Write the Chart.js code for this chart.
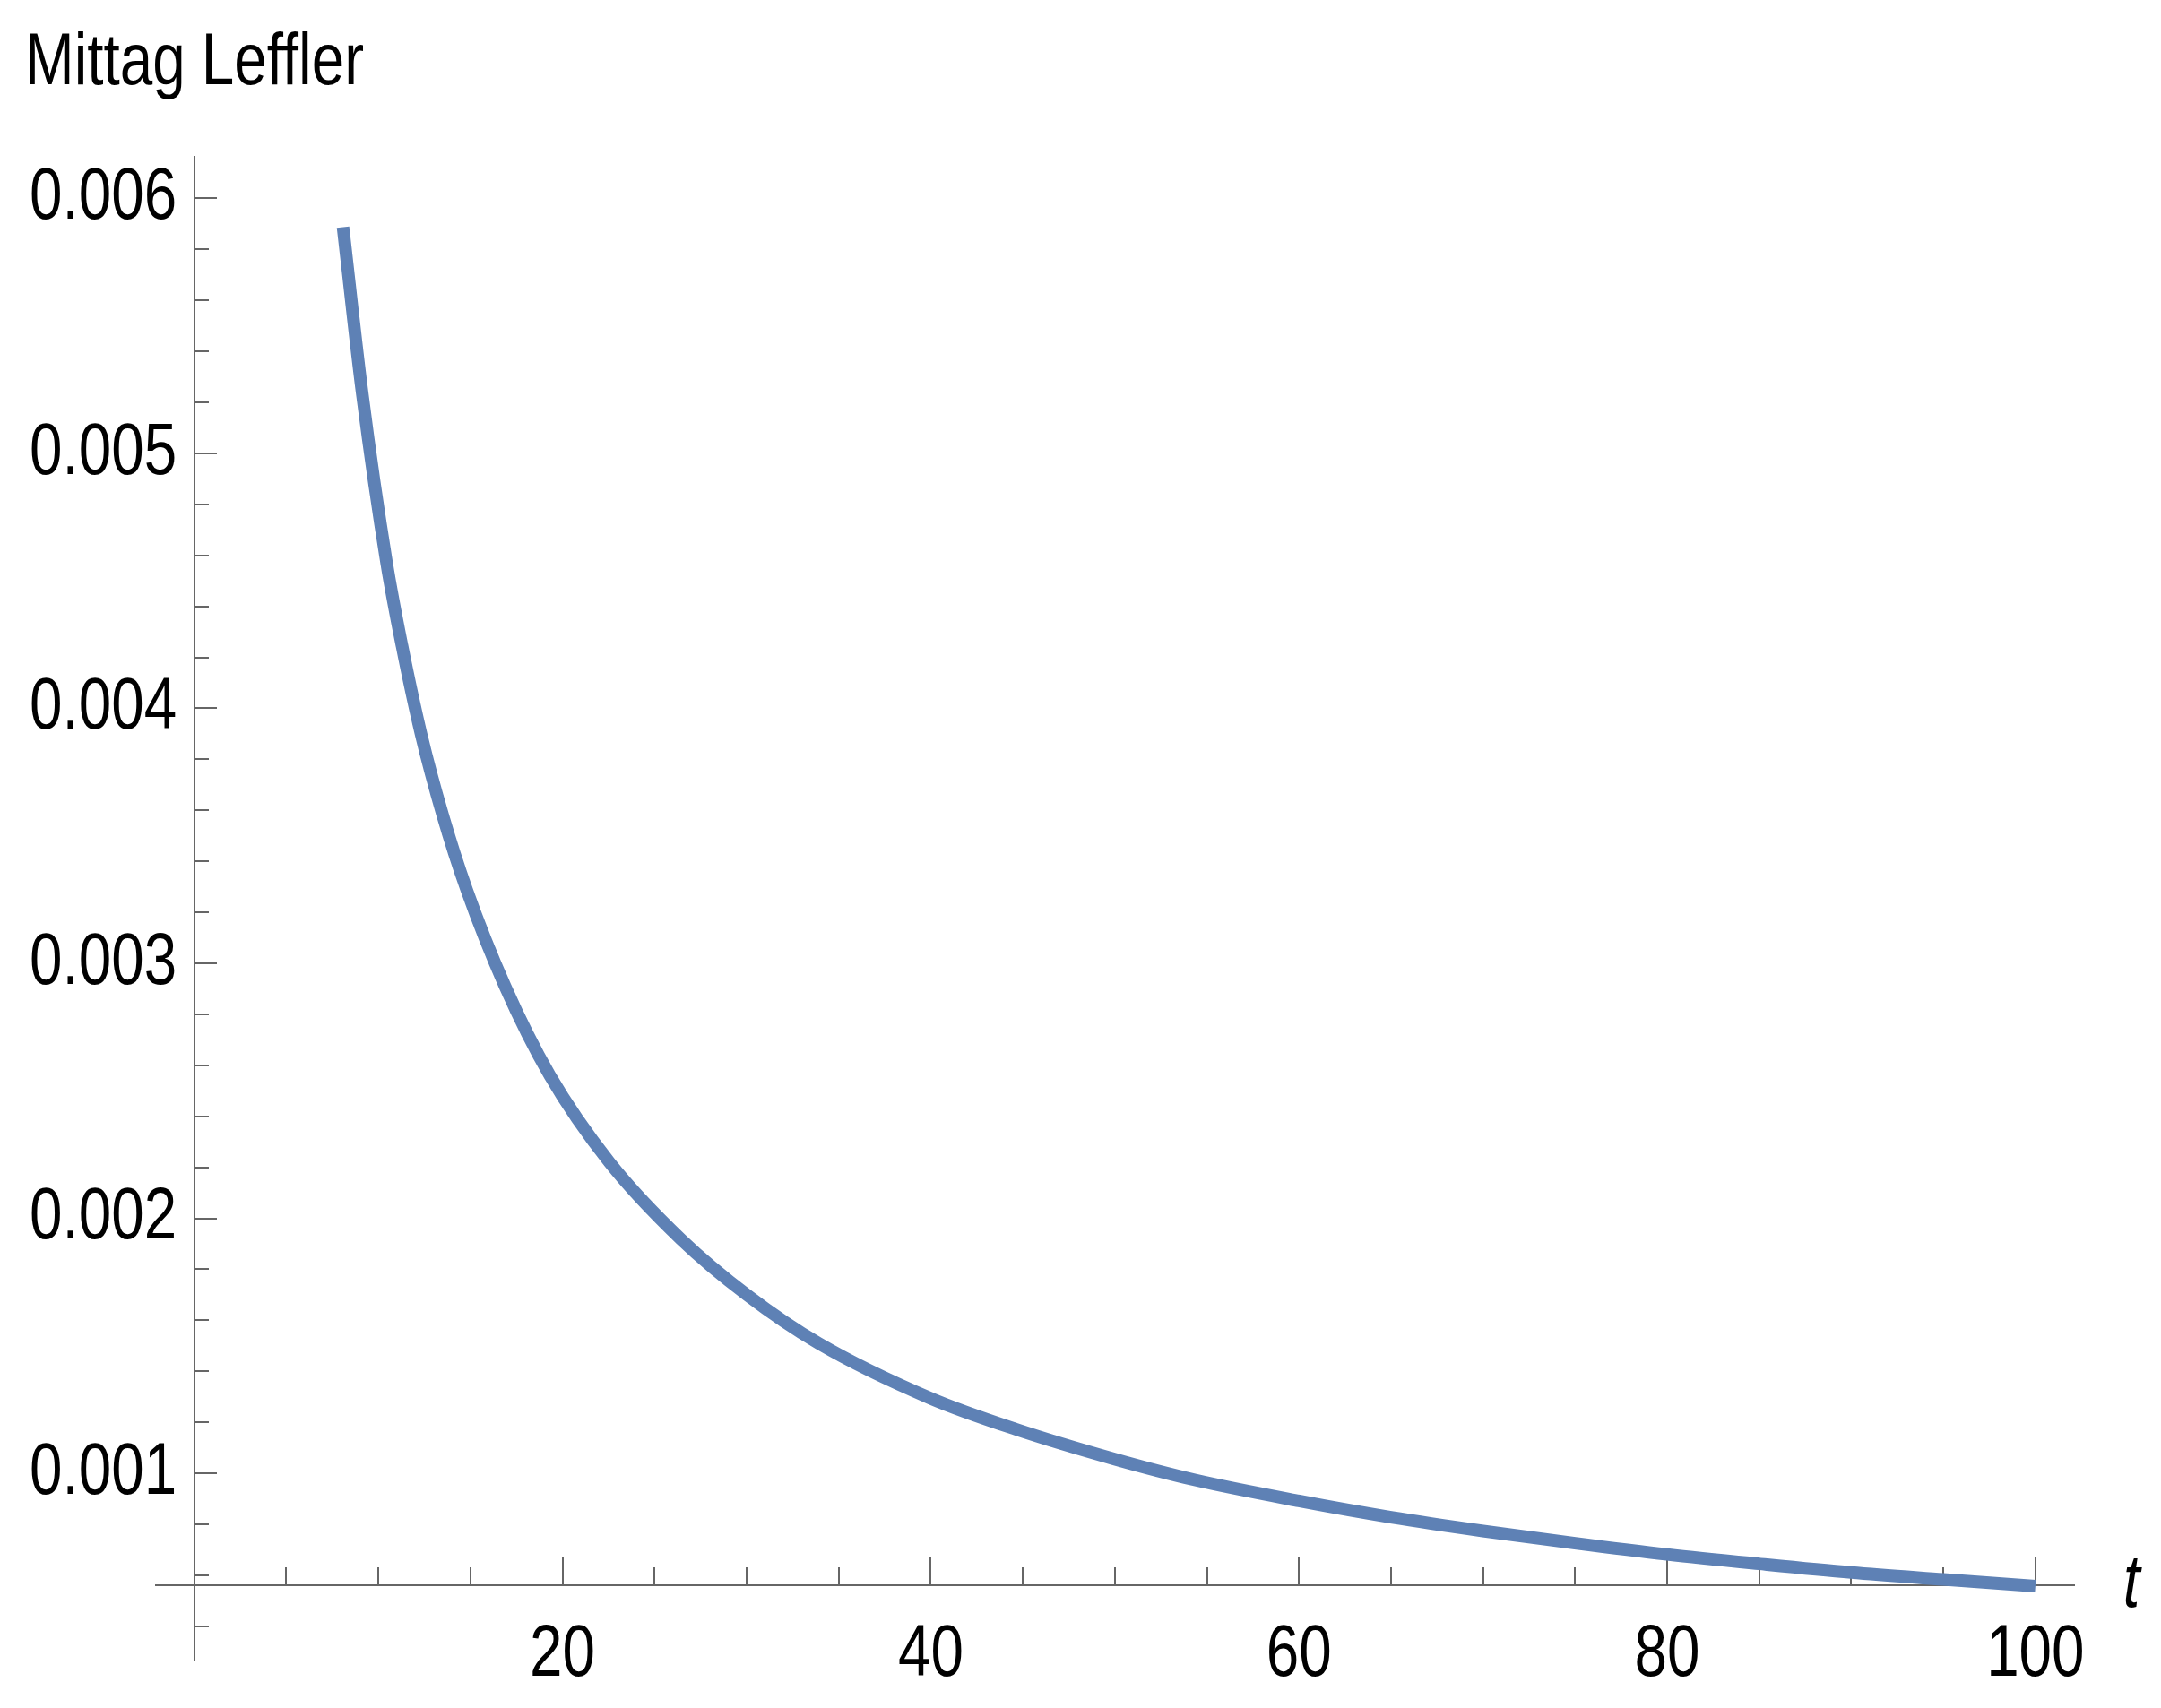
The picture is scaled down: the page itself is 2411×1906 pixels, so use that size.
<!DOCTYPE html>
<html>
<head>
<meta charset="utf-8">
<title>Mittag Leffler</title>
<script src="https://cdn.jsdelivr.net/npm/chart.js@4.4.1/dist/chart.umd.min.js"></script>
<style>
  html, body { margin: 0; padding: 0; background: #ffffff; }
  #wrap { width: 2411px; height: 1906px; }
</style>
</head>
<body>
<div id="wrap"><canvas id="chart_ml"></canvas></div>
<script>
// curve
const tValues = [8.08, 9.13, 10.45, 11.28, 12.33, 13.5, 14.79, 16.87, 19.31, 22.55, 26.45, 30.02,
  33.91, 40, 44.62, 49.98, 54.36, 60, 65, 70, 75, 80, 85, 90, 95, 100];
const mlValues = [0.005887, 0.005231, 0.00457, 0.004247, 0.003896, 0.00358, 0.00329, 0.002912,
  0.002561, 0.00222, 0.001917, 0.00170, 0.00151, 0.001294, 0.001173, 0.001056,
  0.000974, 0.000892, 0.000828, 0.000774, 0.000726, 0.000682, 0.000645, 0.000611, 0.000584,
  0.000558];

const xMajorTicks = [20, 40, 60, 80, 100];
const xTickLabels = ['20', '40', '60', '80', '100'];
const xMinorTicks = [5, 10, 15, 25, 30, 35, 45, 50, 55, 65, 70, 75, 85, 90, 95];

const yMajorTicks = [0.001, 0.002, 0.003, 0.004, 0.005, 0.006];
const yTickLabels = ['0.001', '0.002', '0.003', '0.004', '0.005', '0.006'];
const yMinorTicks = [0.0004, 0.0006, 0.0008, 0.0012, 0.0014, 0.0016, 0.0018, 0.0022, 0.0024,
  0.0026, 0.0028, 0.0032, 0.0034, 0.0036, 0.0038, 0.0042, 0.0044, 0.0046, 0.0048, 0.0052,
  0.0054, 0.0056, 0.0058];

const xRange = { min: -2.08, max: 102.1 };
const yRange = { min: 0.000266, max: 0.0061616 };
const tAxisAt = 0.00056; // value where the t axis crosses
const yAxisAt = 0;

const FONT = "'Liberation Sans', Arial, sans-serif";
const NARROW = 0.8; // no narrow face installed, so squeeze the text instead
const AXIS = '#666666';
const LINE = '#5e81b5';

const canvas = document.getElementById('chart_ml');
const ctx2d = canvas.getContext('2d');
const plainFillText = ctx2d.fillText.bind(ctx2d);
ctx2d.fillText = (text, x, y, maxWidth) => {
  const w = ctx2d.measureText(text).width * NARROW;
  plainFillText(text, x, y, Math.min(maxWidth ?? Infinity, w));
};

const setTicks = values => scale => {
  scale.ticks = values.map(v => ({ value: v }));
};

const axisNamePlugin = {
  id: 'axisName',
  afterDraw: chart => {
    const { ctx, scales } = chart;
    const y = scales.y.getPixelForValue(tAxisAt);
    ctx.save();
    ctx.font = 'italic 84px ' + FONT;
    ctx.fillStyle = '#000000';
    ctx.textAlign = 'center';
    ctx.textBaseline = 'middle';
    ctx.fillText('t', scales.x.right + 64, y);
    ctx.restore();
  }
};

new Chart(canvas, {
  type: 'line',
  data: {
    datasets: [{
      label: 'Mittag Leffler',
      data: tValues.map((t, i) => ({ x: t, y: mlValues[i] })),
      xAxisID: 'x',
      yAxisID: 'y',
      borderColor: LINE,
      backgroundColor: LINE,
      borderWidth: 14,
      pointRadius: 0,
      fill: false,
      cubicInterpolationMode: 'monotone'
    }]
  },
  options: {
    responsive: true,
    maintainAspectRatio: false,
    animation: false,
    devicePixelRatio: 1,
    layout: { padding: { left: 28, right: 97, top: 0, bottom: 53 } },
    scales: {
      x: {
        type: 'linear',
        axis: 'x',
        position: { y: tAxisAt },
        min: xRange.min,
        max: xRange.max,
        afterBuildTicks: setTicks(xMajorTicks),
        grid: { drawOnChartArea: false, color: AXIS, lineWidth: 2, tickLength: -32 },
        border: { display: true, color: AXIS, width: 2 },
        ticks: {
          color: '#000000',
          padding: 61,
          maxRotation: 0,
          autoSkip: false,
          font: { size: 82, family: FONT },
          callback: (v, i) => xTickLabels[i]
        }
      },
      xMinor: {
        type: 'linear',
        axis: 'x',
        position: { y: tAxisAt },
        min: xRange.min,
        max: xRange.max,
        afterBuildTicks: setTicks(xMinorTicks),
        grid: { drawOnChartArea: false, color: AXIS, lineWidth: 2, tickLength: -20 },
        border: { display: false },
        ticks: { display: false }
      },
      y: {
        type: 'linear',
        axis: 'y',
        position: { x: yAxisAt },
        min: yRange.min,
        max: yRange.max,
        afterBuildTicks: setTicks(yMajorTicks),
        grid: { drawOnChartArea: false, color: AXIS, lineWidth: 2, tickLength: -26 },
        border: { display: true, color: AXIS, width: 2 },
        ticks: { display: false }
      },
      yMinor: {
        type: 'linear',
        axis: 'y',
        position: { x: yAxisAt },
        min: yRange.min,
        max: yRange.max,
        afterBuildTicks: setTicks(yMinorTicks),
        grid: { drawOnChartArea: false, color: AXIS, lineWidth: 2, tickLength: -16 },
        border: { display: false },
        ticks: { display: false }
      },
      yLabels: {
        type: 'linear',
        axis: 'y',
        position: 'left',
        min: yRange.min,
        max: yRange.max,
        afterBuildTicks: setTicks(yMajorTicks),
        afterFit: scale => { scale.width = 146; },
        grid: { display: false, drawTicks: false },
        border: { display: false },
        ticks: {
          color: '#000000',
          mirror: true,
          padding: -141,
          autoSkip: false,
          font: { size: 82, family: FONT },
          callback: (v, i) => yTickLabels[i]
        }
      }
    },
    plugins: {
      legend: { display: false },
      tooltip: { enabled: false },
      title: {
        display: true,
        text: 'Mittag Leffler',
        align: 'start',
        color: '#000000',
        font: { size: 82, family: FONT, weight: 'normal' },
        padding: { top: 22, bottom: 55 }
      }
    }
  },
  plugins: [axisNamePlugin]
});
</script>
</body>
</html>
